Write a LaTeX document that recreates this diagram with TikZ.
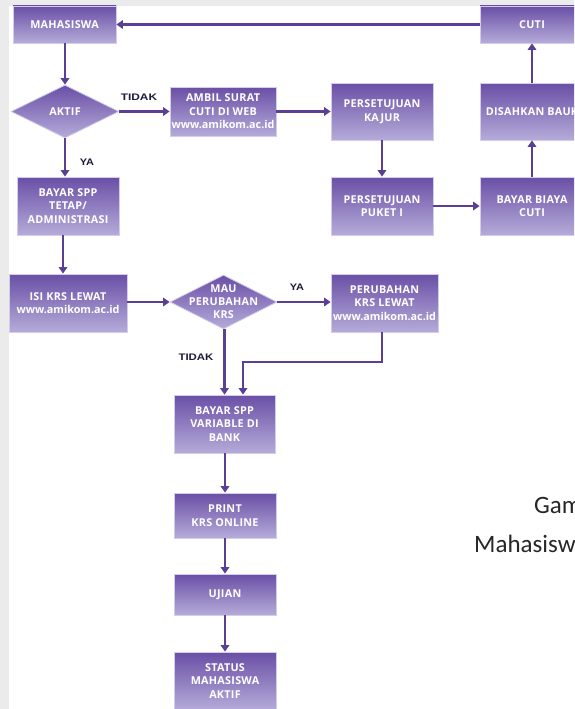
\documentclass[tikz,border=0pt]{standalone}
\usepackage{fontspec}
\setmainfont{Open Sans}[LetterSpace=2.5]
\newfontfamily\capfont{Carlito}
\newfontfamily\lblfont{Liberation Sans}
\usetikzlibrary{shapes.geometric,arrows.meta,calc}
\definecolor{boxtop}{HTML}{6A4FA6}
\definecolor{boxbot}{HTML}{B5ABD9}
\definecolor{boxedge}{HTML}{D3CCEC}
\definecolor{linecol}{HTML}{5A3F95}
\definecolor{lblcol}{HTML}{1E1B3C}
\definecolor{pagegrey}{HTML}{EBEBEB}
\tikzset{
  proc/.style={rectangle, top color=boxtop, bottom color=boxbot, draw=boxedge,
    line width=0.8pt, inner sep=0pt, align=center, text=white,
    font=\fontsize{10.8}{13.5}\selectfont\bfseries},
  dia/.style={diamond, top color=boxtop, bottom color=boxbot, draw=boxedge,
    line width=0.8pt, inner sep=0pt},
  ptext/.style={align=center, text=white, inner sep=0pt,
    font=\fontsize{10.8}{13}\selectfont\bfseries},
  conn/.style={draw=linecol, line width=2.4pt, -{Triangle[width=8.5pt,length=6.5pt]}},
  lbl/.style={text=lblcol, inner sep=0pt, font=\lblfont\fontsize{9.5}{10}\selectfont\bfseries},
  captxt/.style={anchor=base west, inner sep=0pt, text=black!85,
    font=\capfont\fontsize{25}{30}\selectfont}
}
\begin{document}
\begin{tikzpicture}[x=1pt,y=-1pt]
\useasboundingbox (0,0) rectangle (574,709);
\clip (0,0) rectangle (574,709);
\fill[pagegrey] (0,0) rectangle (574,709);
\fill[white] (9,6) rectangle (574,709);

% top row
\node[proc, minimum width=103pt, minimum height=37pt] (mhs) at (64.5,24.5) {MAHASISWA};
\node[proc, minimum width=104pt, minimum height=37pt] (cuti) at (532,24.5) {CUTI};
\node[dia, minimum width=108pt, minimum height=53pt] (aktif) at (65,111.5) {};
\node[ptext] at (aktif) {AKTIF};
\node[proc, minimum width=106pt, minimum height=49pt] (ambil) at (223,111.5) {AMBIL SURAT\\CUTI DI WEB\\{\addfontfeature{LetterSpace=0}www.amikom.ac.id}};
\node[proc, minimum width=102pt, minimum height=57pt] (kajur) at (382,111.5) {PERSETUJUAN\\KAJUR};
\node[proc, minimum width=104pt, minimum height=57pt] (bau) at (532,111.5) {DISAHKAN BAUK};
\node[proc, minimum width=102pt, minimum height=58pt] (spp) at (68,206) {BAYAR SPP\\TETAP/\\ADMINISTRASI};
\node[proc, minimum width=102pt, minimum height=58pt] (puket) at (382,206) {PERSETUJUAN\\PUKET I};
\node[proc, minimum width=104pt, minimum height=58pt] (biaya) at (532,206) {BAYAR BIAYA\\CUTI};

% middle
\node[proc, minimum width=118pt, minimum height=58pt] (isi) at (68,303) {ISI KRS LEWAT\\{\addfontfeature{LetterSpace=0}www.amikom.ac.id}};
\node[dia, minimum width=107pt, minimum height=54pt] (mau) at (223.5,302) {};
\node[ptext] at (mau) {MAU\\PERUBAHAN\\KRS};
\node[proc, minimum width=107pt, minimum height=58pt] (perub) at (384.5,303) {PERUBAHAN\\KRS LEWAT\\{\addfontfeature{LetterSpace=0}www.amikom.ac.id}};
\node[proc, minimum width=101pt, minimum height=58pt] (var) at (224.5,424) {BAYAR SPP\\VARIABLE DI\\BANK};
\node[proc, minimum width=102pt, minimum height=45pt] (print) at (225,515.5) {PRINT\\KRS ONLINE};
\node[proc, minimum width=102pt, minimum height=41pt] (ujian) at (225,594.5) {UJIAN};
\node[proc, minimum width=102pt, minimum height=58pt] (status) at (225,681) {STATUS\\MAHASISWA\\AKTIF};

% labels
\node[lbl] (l1) at (139,97) {\scalebox{1.25}[1]{TIDAK}};
\node[lbl] (l2) at (87,162) {\scalebox{1.15}[1]{YA}};
\node[lbl] (l3) at (297,287) {\scalebox{1.15}[1]{YA}};
\node[lbl] (l4) at (196,357) {\scalebox{1.2}[1]{TIDAK}};

% caption (cut off at the page edge, as in the reference)
\node[captxt] (cap1) at (534,513) {Gambar};
\node[captxt] (cap2) at (474,552) {Mahasiswa};

% connectors
\draw[conn] (cuti.west) -- (mhs.east);
\draw[conn] (mhs.south -| aktif.north) -- (aktif.north);
\draw[conn] (aktif.east) -- (ambil.west);
\draw[conn] (ambil.east) -- (kajur.west);
\draw[conn] (kajur.south) -- (puket.north);
\draw[conn] (puket.east) -- (biaya.west);
\draw[conn] (biaya.north) -- (bau.south);
\draw[conn] (bau.north) -- (cuti.south);
\draw[conn] (aktif.south) -- (aktif.south |- spp.north);
\coordinate (s1) at ($(spp.south)+(-5,0)$);
\draw[conn] (s1) -- (s1 |- isi.north);
\draw[conn] (isi.east |- mau.west) -- (mau.west);
\draw[conn] (mau.east) -- (perub.west |- mau.east);
\coordinate (m1) at ($(mau.south)+(1,0)$);
\draw[conn] (m1) -- (m1 |- var.north);
\coordinate (p1) at ($(perub.south)+(-2.5,0)$);
\coordinate (v1) at ($(var.north)+(18.5,0)$);
\coordinate (elb) at (0,362);
\draw[conn] (p1) -- (p1 |- elb) -- (v1 |- elb) -- (v1);
\draw[conn] (var.south -| print.north) -- (print.north);
\draw[conn] (print.south) -- (ujian.north);
\draw[conn] (ujian.south) -- (status.north);
\end{tikzpicture}
\end{document}
